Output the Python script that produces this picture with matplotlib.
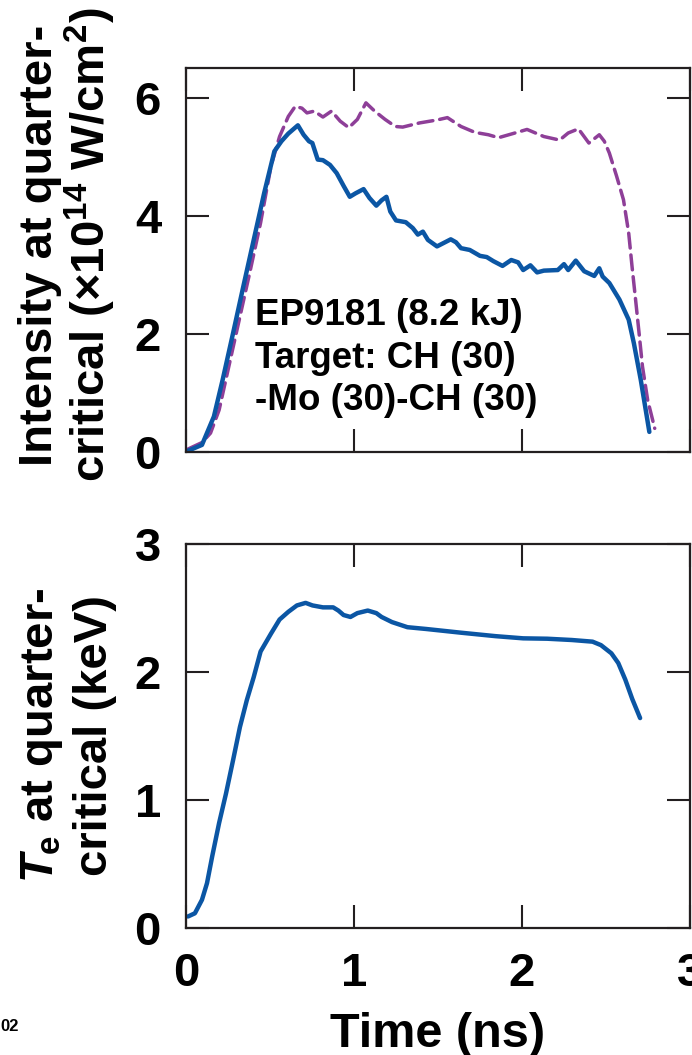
import matplotlib
matplotlib.use('Agg')
import matplotlib.pyplot as plt

plt.rcParams['font.family'] = ['Liberation Sans', 'DejaVu Sans']
plt.rcParams['font.weight'] = 'bold'
plt.rcParams['mathtext.fontset'] = 'custom'
plt.rcParams['mathtext.rm'] = 'Liberation Sans:bold'
plt.rcParams['mathtext.it'] = 'Liberation Sans:bold:italic'
plt.rcParams['mathtext.bf'] = 'Liberation Sans:bold'

# ---------------- data ----------------
# Top panel: intensity at quarter-critical (x1e14 W/cm^2)
t_blue = [0.012, 0.095, 0.166, 0.218, 0.280, 0.341, 0.403, 0.465, 0.526, 0.568,
          0.609, 0.666, 0.700, 0.732, 0.752, 0.784, 0.815, 0.857, 0.897, 0.939,
          0.975, 1.010, 1.057, 1.092, 1.133, 1.164, 1.193, 1.216, 1.250, 1.308,
          1.350, 1.380, 1.410, 1.440, 1.494, 1.535, 1.576, 1.607, 1.637, 1.689,
          1.750, 1.790, 1.830, 1.884, 1.936, 1.977, 2.007, 2.050, 2.090, 2.130,
          2.213, 2.250, 2.275, 2.320, 2.370, 2.430, 2.460, 2.480, 2.520, 2.580,
          2.635, 2.666, 2.707, 2.758]
i_blue = [0.02, 0.12, 0.60, 1.22, 2.01, 2.80, 3.59, 4.38, 5.09, 5.26,
          5.39, 5.53, 5.37, 5.26, 5.23, 4.95, 4.94, 4.86, 4.72, 4.50,
          4.32, 4.38, 4.45, 4.30, 4.17, 4.26, 4.32, 4.07, 3.92, 3.89,
          3.79, 3.68, 3.73, 3.59, 3.48, 3.54, 3.60, 3.55, 3.45, 3.42,
          3.32, 3.30, 3.23, 3.15, 3.25, 3.21, 3.08, 3.16, 3.04, 3.07,
          3.08, 3.18, 3.08, 3.24, 3.06, 2.98, 3.11, 2.97, 2.86, 2.58,
          2.24, 1.84, 1.22, 0.34]

t_mag = [0.012, 0.095, 0.146, 0.197, 0.259, 0.321, 0.383, 0.444, 0.506, 0.557,
         0.609, 0.650, 0.690, 0.720, 0.763, 0.815, 0.866, 0.918, 0.969, 1.020,
         1.071, 1.123, 1.185, 1.246, 1.290, 1.390, 1.494, 1.556, 1.637, 1.720,
         1.800, 1.860, 1.946, 2.030, 2.130, 2.224, 2.275, 2.336, 2.398, 2.460,
         2.490, 2.520, 2.563, 2.604, 2.635, 2.655, 2.676, 2.697, 2.717, 2.748,
         2.790]
i_mag = [0.05, 0.16, 0.32, 0.71, 1.50, 2.29, 3.08, 3.88, 4.84, 5.34,
         5.68, 5.85, 5.82, 5.74, 5.77, 5.67, 5.77, 5.60, 5.49, 5.63,
         5.91, 5.77, 5.63, 5.51, 5.50, 5.57, 5.62, 5.66, 5.51, 5.41,
         5.37, 5.32, 5.39, 5.46, 5.34, 5.28, 5.40, 5.47, 5.23, 5.37,
         5.26, 5.06, 4.67, 4.27, 3.71, 3.14, 2.58, 2.01, 1.45, 0.88,
         0.40]

# Bottom panel: Te at quarter-critical (keV)
t_te = [0.012, 0.053, 0.095, 0.125, 0.156, 0.197, 0.238, 0.280, 0.321, 0.362,
        0.403, 0.444, 0.506, 0.557, 0.609, 0.660, 0.712, 0.753, 0.815, 0.876,
        0.907, 0.938, 0.979, 1.020, 1.082, 1.133, 1.164, 1.226, 1.318, 1.430,
        1.637, 1.843, 2.007, 2.150, 2.296, 2.420, 2.470, 2.532, 2.573, 2.615,
        2.656, 2.703]
te = [0.09, 0.115, 0.22, 0.35, 0.56, 0.82, 1.05, 1.31, 1.57, 1.78,
      1.96, 2.16, 2.30, 2.41, 2.47, 2.52, 2.54, 2.52, 2.505, 2.505,
      2.48, 2.445, 2.43, 2.46, 2.48, 2.46, 2.43, 2.39, 2.35, 2.336,
      2.307, 2.28, 2.263, 2.26, 2.25, 2.237, 2.21, 2.146, 2.07, 1.94,
      1.79, 1.64]

top_yticks = [0, 2, 4, 6]
bot_yticks = [0, 1, 2, 3]
xticks = [0, 1, 2, 3]
annot_lines = ["EP9181 (8.2 kJ)", "Target: CH (30)", "-Mo (30)-CH (30)"]

# ---------------- figure ----------------
W, H = 692, 1055
fig = plt.figure(figsize=(W / 100, H / 100), dpi=100)


def fx(x):
    return x / W


def fy(y):
    return 1 - y / H


ax1 = fig.add_axes([fx(186), fy(452), 504 / W, 384 / H])
ax2 = fig.add_axes([fx(186), fy(928), 504 / W, 384 / H])

blue = '#0b56a4'
purple = '#8e3f98'
spine_c = '#231f20'

ax1.plot(t_mag, i_mag, color=purple, lw=2.5, dashes=(4.3, 2.0),
         solid_joinstyle='round', dash_capstyle='round')
ax1.plot(t_blue, i_blue, color=blue, lw=3.2, solid_joinstyle='round',
         solid_capstyle='round')
ax2.plot(t_te, te, color=blue, lw=3.2, solid_joinstyle='round',
         solid_capstyle='round')

for ax in (ax1, ax2):
    ax.set_xlim(0, 3)
    ax.set_xticks(xticks)
    for s in ax.spines.values():
        s.set_color(spine_c)
        s.set_linewidth(1.6)
    ax.tick_params(direction='in', length=16.5, width=1.5, color=spine_c,
                   top=True, right=True, labelsize=34)
    ax.tick_params(axis='y', pad=18)
    ax.tick_params(axis='x', pad=17)

ax1.set_ylim(0, 6.5)
ax1.set_yticks(top_yticks)
ax1.tick_params(labelbottom=False)
ax2.set_ylim(0, 3)
ax2.set_yticks(bot_yticks)

# annotation
for txt, yb in zip(annot_lines, [325, 368, 410]):
    fig.text(fx(255), fy(yb), txt, fontsize=26.5, ha='left', va='baseline')

# y labels
lab_kw = dict(rotation=90, rotation_mode='anchor', ha='center', va='baseline',
              fontsize=34)
fig.text(fx(52), fy(245.5), "Intensity at quarter-", **lab_kw)
fig.text(fx(105), fy(245), r"critical (×10$^{14}$ W/cm$^{2}$)", **lab_kw)
fig.text(fx(53), fy(735), r"$\mathit{T}_{\mathrm{e}}$ at quarter-", **lab_kw)
fig.text(fx(107), fy(736), "critical (keV)", **lab_kw)

fig.text(fx(438), fy(1047), "Time (ns)", fontsize=35, ha='center', va='baseline')
fig.text(0.0, fy(1031), "02", fontsize=12, ha='left', va='baseline')

fig.savefig('out.png', dpi=100)
